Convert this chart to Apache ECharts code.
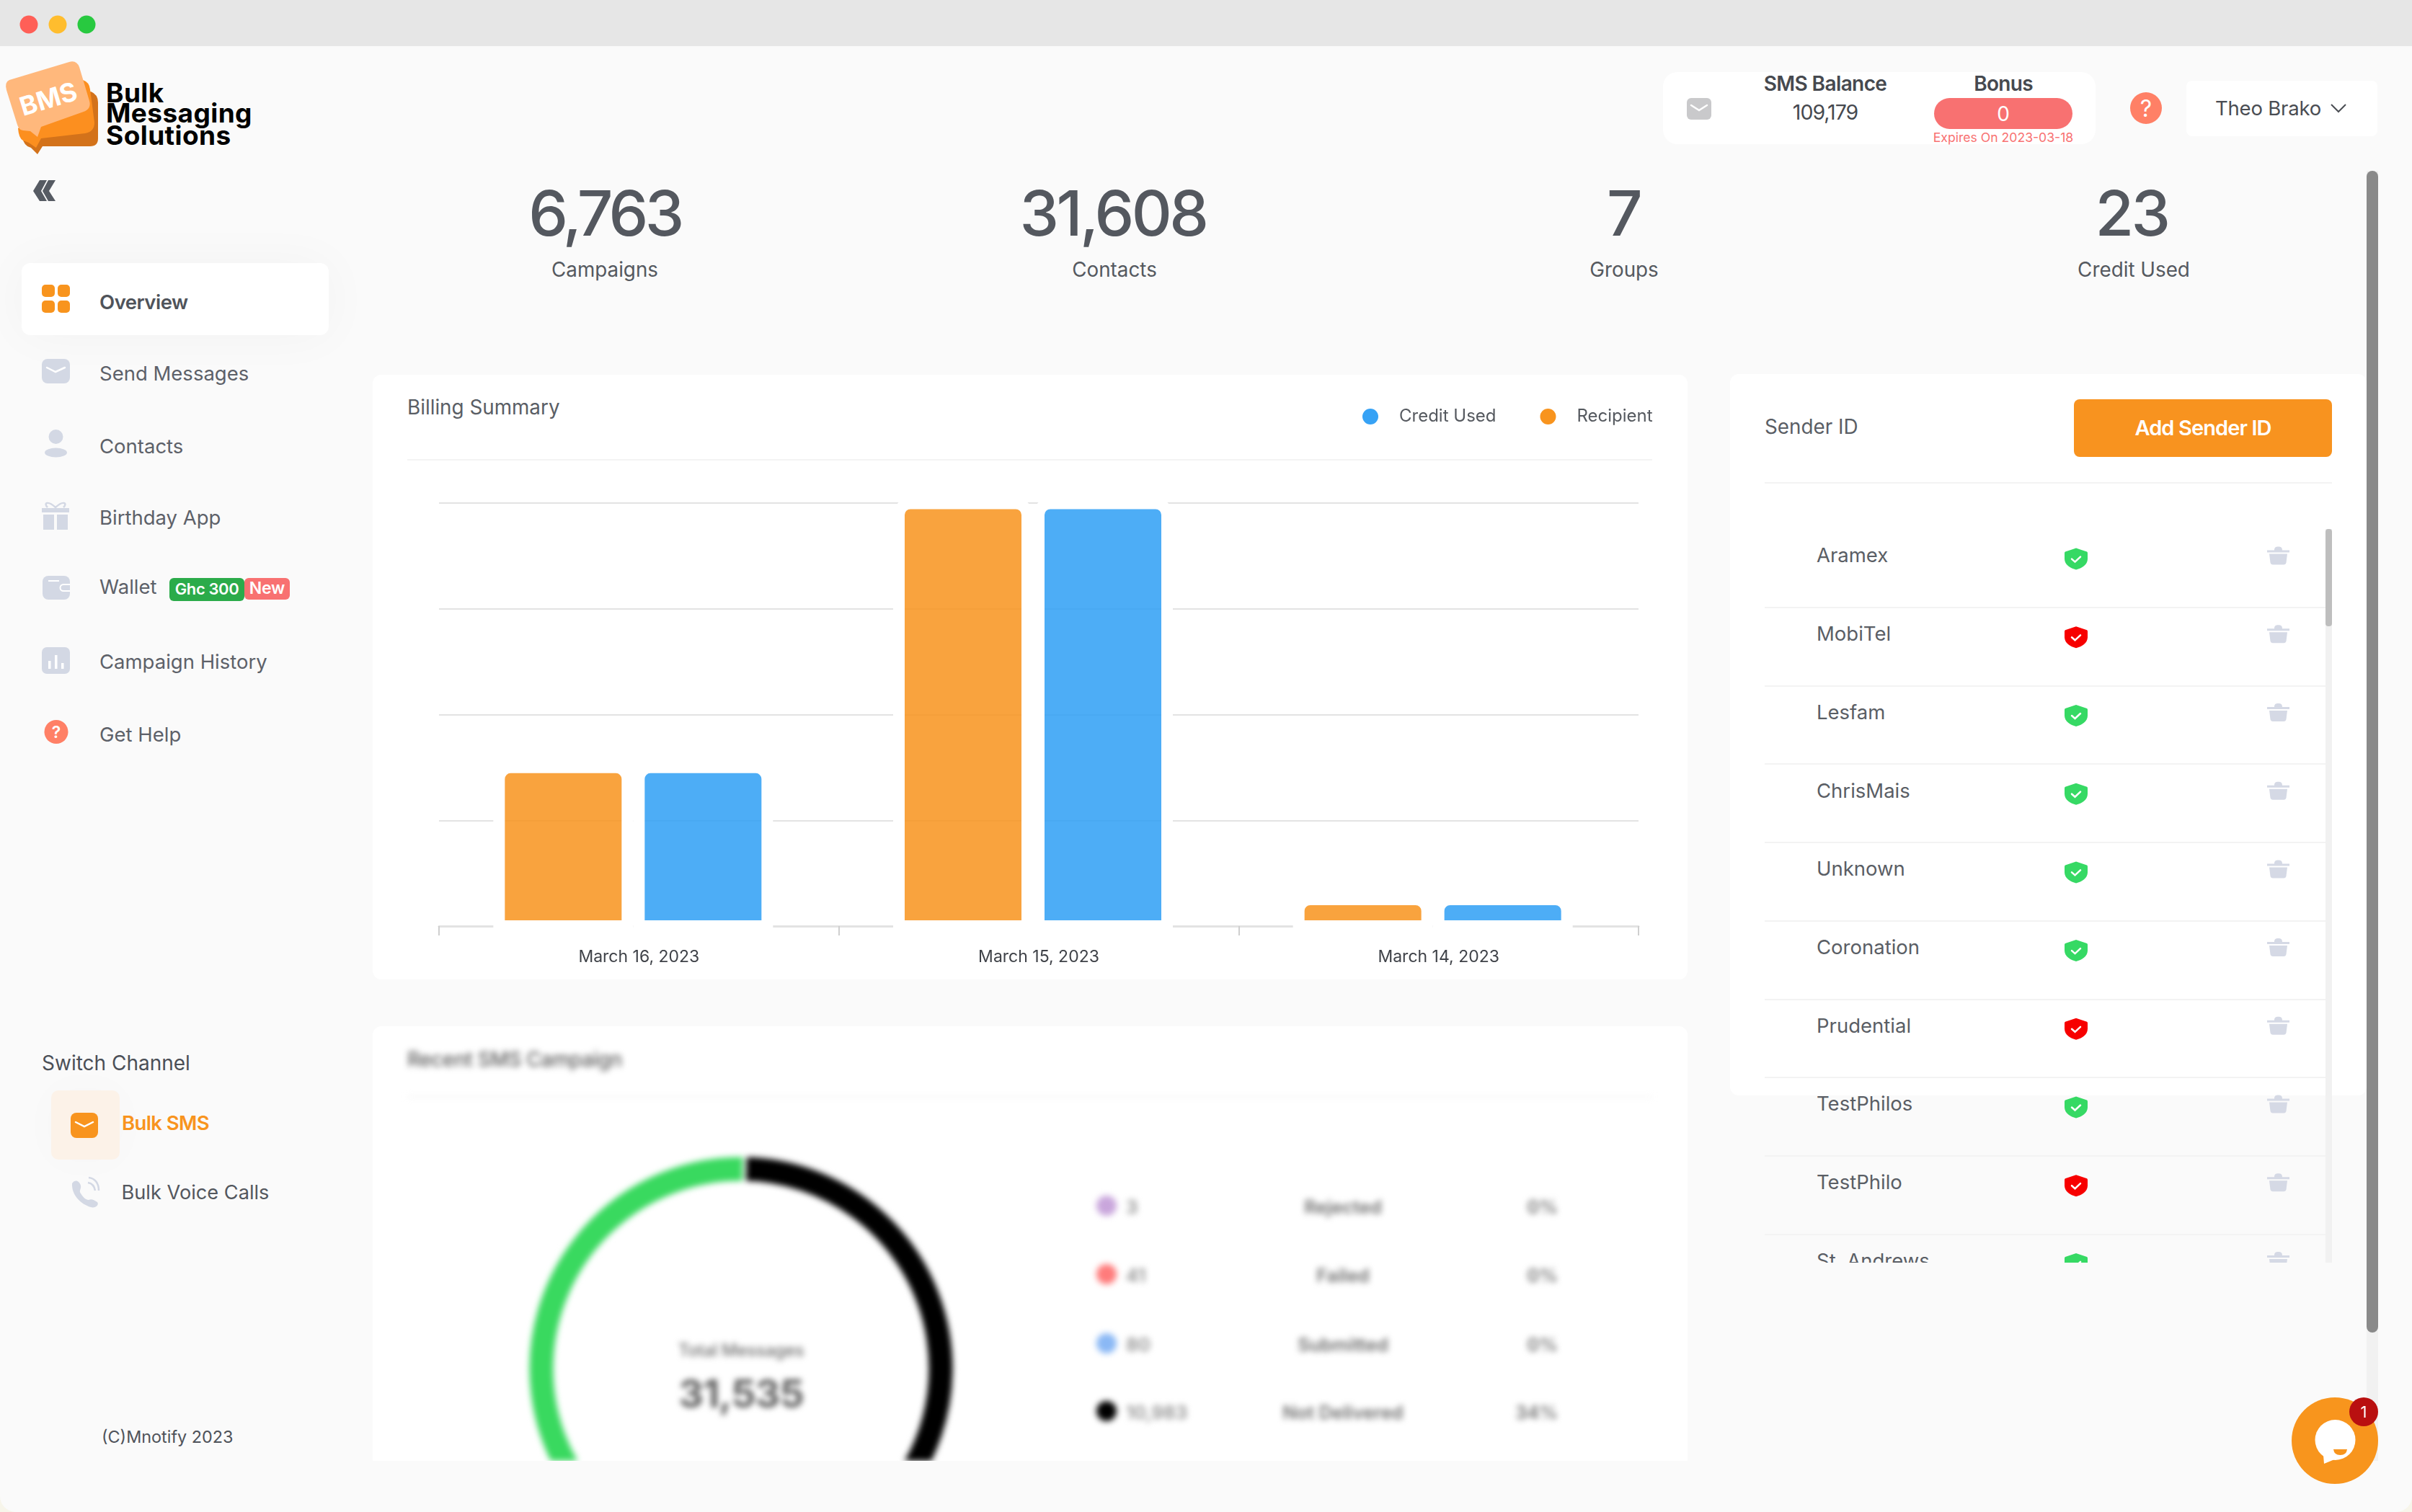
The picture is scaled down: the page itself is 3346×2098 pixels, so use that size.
<!DOCTYPE html>
<html><head><meta charset="utf-8"><title>Bulk Messaging Solutions</title>
<script src="https://cdn.jsdelivr.net/npm/echarts@6/dist/echarts.min.js"></script>
<style>
html,body{margin:0;padding:0;width:3346px;height:2098px;overflow:hidden;background:#f7f5ea}
#win{position:absolute;left:0;top:0;width:3346px;height:2098px;background:#fafafa;border-radius:0 0 22px 22px;overflow:hidden;font-family:Inter,sans-serif}
.a{position:absolute}.t{position:absolute;white-space:nowrap;line-height:1}
svg{position:absolute;left:0;top:0;overflow:visible}
</style></head><body><div id="win"></div>
<script>
const chartDates=['March 16, 2023','March 15, 2023','March 14, 2023'];
const recipientValues=[6,16,1];
const creditUsedValues=[6,16,1];
const legendNames=['Credit Used','Recipient'];
const yMax=16,yStep=4;
const statValues=['6,763','31,608','7','23'];
const statLabels=['Campaigns','Contacts','Groups','Credit Used'];
const navLabels=['Overview','Send Messages','Contacts','Birthday App','Wallet','Campaign History','Get Help'];
const senderNames=['Aramex','MobiTel','Lesfam','ChrisMais','Unknown','Coronation','Prudential','TestPhilos','TestPhilo','St. Andrews'];
const senderVerified=[1,0,1,1,1,1,0,1,0,1];
const campaignNames=['Not Delivered','Submitted','Failed','Rejected','Delivered'];
const campaignValues=[10983,80,41,3,20428];
const campaignColors=['#000000','#8ab8f5','#ff7b7b','#c9a6dc','#39d95f'];
const campaignRows=[['3','Rejected','0%','#c9a6dc'],['41','Failed','0%','#ff7b7b'],['80','Submitted','0%','#8ab8f5'],['10,983','Not Delivered','34%','#000']];

const win=document.getElementById('win');
function box(x,y,w,h,css,parent){const d=document.createElement('div');d.className='a';d.style.cssText=`left:${x}px;top:${y}px;width:${w}px;height:${h}px;${css||''}`;(parent||win).appendChild(d);return d}
function txt(s,x,y,size,color,o,parent){o=o||{};const d=document.createElement('div');d.className='t';d.textContent=s;
 const tx=o.a==='c'?'-50%':o.a==='r'?'-100%':'0';
 d.style.cssText=`left:${x}px;top:${y}px;font-size:${size}px;color:${color};font-weight:${o.w||400};letter-spacing:${o.ls||0}px;transform:translate(${tx},-50%);font-family:${o.f||'Inter,sans-serif'};`;
 (parent||win).appendChild(d);return d}
function svg(inner,parent){const n=document.createElement('div');n.innerHTML=`<svg xmlns="http://www.w3.org/2000/svg" width="3346" height="2098">${inner}</svg>`;const e=n.firstChild;(parent||win).appendChild(e);return e}

/* window chrome */
box(0,0,3346,64,'background:#e6e6e6');
svg(`<circle cx="40" cy="34" r="12.5" fill="#ff5f57"/><circle cx="80" cy="34" r="12.5" fill="#ffbd2e"/><circle cx="120" cy="34" r="12.5" fill="#28c940"/>`);

/* logo */
svg(`<path d="M126 127 Q136 131 136 142 V192 Q136 203 125 203 L59 203 L52 214 L43 205 Q33 203 31 190 Z" fill="#d3721a"/>
<path d="M115 111 Q124 114 125 124 L131 170 Q131 183 118 185 L57 192 L50 205 L40 198 L32 195 Q26 192 25 178 Z" fill="#fc8f1f"/>
<path d="M13 111 L96 86 Q106 83 110 93 L124 140 Q127 151 116 155 L57 176 L52 190 L42 182 L32 181 Q26 180 24 173 L9 125 Q6 114 13 111Z" fill="#ffb87c"/>`);
const bms=txt('BMS',67,137,36,'#fff',{a:'c',w:700});bms.style.transform='translate(-50%,-50%) rotate(-17deg)';
['Bulk','Messaging','Solutions'].forEach((s,i)=>txt(s,147,[128,156,187][i],37,'#000',{w:700,ls:0.4}));
svg(`<path d="M55 250 L46 265 L55 279 H65 L57 265 L65 250Z M67 250 L59 265 L67 279 H77 L68 265 L77 250Z" fill="#565b63"/>`);

/* sidebar */
box(30,365,426,100,'background:#fff;border-radius:12px;box-shadow:0 0 70px rgba(0,0,0,.035)');
const navY=[420,519,620,719,815,919,1020];
navLabels.forEach((s,i)=>txt(s,138,navY[i],27.5,i===0?'#4f535a':'#5d6169',{w:i===0?600:400,ls:i===0?-0.5:0}));
const G='#d3d8e4';
svg(`<g fill="#f8941e"><rect x="58" y="395" width="18" height="17" rx="5"/><rect x="80" y="395" width="17" height="17" rx="5"/><rect x="58" y="417" width="18" height="17" rx="5"/><rect x="80" y="417" width="17" height="17" rx="5"/></g>
<rect x="58" y="498" width="39" height="34" rx="8" fill="${G}"/><path d="M65 510 L77 516 L90 510" fill="none" stroke="#fff" stroke-width="2.5" stroke-linecap="round"/>
<ellipse cx="77.500" cy="606" rx="10" ry="10" fill="${G}"/><ellipse cx="77.500" cy="628" rx="15.500" ry="6.500" fill="${G}"/>
<path d="M58 705H96V711H58Z M60 714H75V735H60Z M79 714H94V735H79Z" fill="${G}"/><path d="M77 704C66 694 60 698 66 704M77 704C88 694 94 698 88 704" fill="none" stroke="${G}" stroke-width="2.500"/>
<rect x="59" y="799" width="38" height="33" rx="8" fill="${G}"/><path d="M67 806H82" stroke="#fff" stroke-width="2"/><path d="M97 811H88a4.500 4.500 0 0 0 0 9H97" fill="none" stroke="#fff" stroke-width="2"/>
<rect x="58" y="898" width="39" height="37" rx="7" fill="${G}"/><rect x="67" y="917" width="3.500" height="11" fill="#fff"/><rect x="76" y="909" width="3.500" height="19" fill="#fff"/><rect x="85" y="920" width="3.500" height="8" fill="#fff"/>
<circle cx="78" cy="1015.500" r="16.500" fill="#ff8066"/>`);
txt('?',78,1016,23,'#fff',{a:'c',w:600});
box(235,802,104,32,'background:#2bab4a;border-radius:6px');txt('Ghc 300',287,817,22,'#fff',{a:'c',w:600,ls:-0.4});
box(339,802,63,30,'background:#f87171;border-radius:6px');txt('New',370.500,816,23,'#fff',{a:'c',w:600,ls:-0.2});

txt('Switch Channel',58,1475,28,'#4b4f57');
box(71,1513,95,96,'background:#fcf2e8;border-radius:10px;box-shadow:0 0 60px rgba(0,0,0,.02)');
svg(`<rect x="98" y="1544" width="38" height="35" rx="8" fill="#f8941e"/><path d="M105 1557 L117 1563 L129 1557" fill="none" stroke="#fff" stroke-width="2.500" stroke-linecap="round"/>
<path d="M100 1642C104 1636 110 1638 112 1645C113 1650 109 1652 112 1656C115 1661 119 1665 123 1665C127 1663 130 1665 135 1668C138 1672 132 1677 126 1675C112 1671 99 1658 100 1642Z" fill="${G}"/><path d="M122 1641C128 1642 131 1646 132 1652M123 1634C132 1635 137 1642 137 1652" fill="none" stroke="${G}" stroke-width="2.500"/>`);
txt('Bulk SMS',169,1559,27.5,'#f8941e',{w:600,ls:-0.6});
txt('Bulk Voice Calls',168.5,1655,27.2,'#53575e');
txt('(C)Mnotify 2023',141,1994,23.4,'#4f535a');

/* top-right header */
box(2307,100,600,100,'background:#fff;border-radius:20px');
svg(`<rect x="2340" y="136" width="34" height="30" rx="6" fill="#c9c9cb"/><path d="M2346 146 L2357 153 L2368 146" fill="none" stroke="#fff" stroke-width="2.500" stroke-linecap="round"/>`);
txt('SMS Balance',2532,116,28,'#46494f',{a:'c',w:600,ls:-0.6});
txt('109,179',2532,156,28.500,'#46494f',{a:'c',ls:-1});
txt('Bonus',2779,116,28,'#46494f',{a:'c',w:600,ls:-0.7});
box(2683,136,192,43,'background:#f87171;border-radius:22px');txt('0',2779,158,28,'#fff',{a:'c'});
txt('Expires On 2023-03-18',2779,191,17.600,'#f87171',{a:'c'});
svg(`<circle cx="2977" cy="150" r="22" fill="#ff8066"/>`);txt('?',2977,151,32,'#fff',{a:'c'});
box(3033,112,265,77,'background:#fff;border-radius:8px');
txt('Theo Brako',3073,151,27.5,'#4a4d53',{ls:-0.2});
svg(`<path d="M3234 145 L3244 155 L3254 145" fill="none" stroke="#4a4d53" stroke-width="2"/>`);

/* stats */
const statX=[839,1544,2252,2957];
statValues.forEach((s,i)=>txt(s,statX[i],295,87,'#54585f',{a:'c',w:500,ls:i===0?-4.6:-3.6}));
const labelX=[839,1546,2253,2960];
statLabels.forEach((s,i)=>txt(s,labelX[i],374.5,27.8,'#55595f',{a:'c'}));

/* scrollbar */
box(3283,237,16,1790,'background:#f1f1f1');box(3283,237,16,1612,'background:#8a8a8a;border-radius:8px');

/* billing card */
box(517,520,1824,839,'background:#fff;border-radius:12px');
txt('Billing Summary',565,566,27.8,'#5a5e65');
box(565,637,1727,2,'background:#f4f4f4');

/* recent campaign card (blurred region) */
const rec=box(517,1424,1824,603,'background:#fff;border-radius:12px 12px 0 0;overflow:hidden');
const blur=box(0,0,1824,603,'filter:blur(4px)',rec);
txt('Recent SMS Campaign',48,47,27.8,'#5c5c5c',{w:500,ls:-0.3},blur);
box(48,97,1727,2,'background:#f1f1f1',blur);
const pieDiv=box(0,0,1824,603,'',blur);
txt('Total Messages',511,450,24,'#707070',{a:'c',w:500,ls:-0.4},blur);
txt('31,535',511,510,54,'#5f5f5f',{a:'c',w:700,ls:-1},blur);
const rowY=[249,344,440,534];
campaignRows.forEach((r,i)=>{
 box(1004,rowY[i]-14,28,28,`background:${r[3]};border-radius:50%`,blur);
 txt(r[0],1045,rowY[i]+2,26,'#8f8f8f',{w:600},blur);
 txt(r[1],1346,rowY[i]+2,25.5,'#6f6f6f',{a:'c',w:600},blur);
 txt(r[2],1644,rowY[i]+2,25.5,'#6f6f6f',{a:'r',w:600},blur);
});

/* sender card */
box(2400,519,883,1001,'background:#fff;border-radius:12px');
txt('Sender ID',2448,592.5,27.8,'#5a5e65');
box(2877,554,358,80,'background:#f8931f;border-radius:8px');txt('Add Sender ID',3056,593,29,'#fff',{a:'c',w:600,ls:-0.9});
box(2448,669,787,2,'background:#f3f3f3');
box(3226,734,9,1018,'background:#f1f1f1');box(3226,734,9,135,'background:#bebebe;border-radius:4px');
const list=box(2448,690,778,1062,'overflow:hidden');
senderNames.forEach((s,i)=>{
 const y=80.6+108.7*i;
 txt(s,72,y+0.8,27.5,'#5a5e65',{},list);
 const c=senderVerified[i]?'#36d964':'#f70000';
 svg(`<g transform="translate(416,${y-10})"><path d="M16 0 L31 5 Q32 5.500 32 7 V15 C32 23 24 28 16 30 C8 28 0 23 0 15 V7 Q0 5.500 1 5Z" fill="${c}"/><path d="M10 15 L14.500 19 L22 12" fill="none" stroke="#fff" stroke-width="2.500" stroke-linecap="round"/></g>
 <g transform="translate(697,${y-12})" fill="#d5d9e5"><path d="M0 5H31V8H0Z M10 5C10 1 12 0 15.500 0C19 0 21 1 21 5Z"/><path d="M3 10H28L26.500 22Q26 25 23 25H8Q5 25 4.500 22Z"/></g>`,list);
 if(i<9) box(0,Math.round(152+108.7*i),778,2,'background:#f3f3f3',list);
});

/* chat widget */
svg(`<circle cx="3239" cy="1999" r="60" fill="#f8951d"/><circle cx="3239.500" cy="1998" r="28" fill="#fff"/><path d="M3223 2019 L3224 2031 L3241 2024Z" fill="#fff"/>
<path d="M3237 2011 H3256 Q3255 2019 3246.500 2019 Q3238 2019 3237 2011Z" fill="#f8951d"/><circle cx="3279" cy="1959" r="20" fill="#b91010"/>`);
txt('1',3279,1959,22,'#fff',{a:'c'});

/* bar chart */
const chartDiv=box(0,0,3346,2098,'pointer-events:none');
const chart=echarts.init(chartDiv,null,{renderer:'canvas'});
const ORANGE='#f8941e',BLUE='#36a2f5',FILL_O='rgba(248,148,30,.86)',FILL_B='rgba(46,159,245,.85)';
function barSeries(name,data,fill){return {name,type:'bar',xAxisIndex:1,yAxisIndex:1,data,barWidth:194,barGap:0,z:5,silent:true,
 itemStyle:{color:fill,borderColor:'#fff',borderWidth:16,borderRadius:[16,16,0,0]}}}
chart.setOption({animation:false,backgroundColor:'transparent',textStyle:{fontFamily:'Inter'},
 legend:{left:1890,top:566,icon:'circle',itemWidth:22,itemHeight:22,itemGap:61,padding:0,selectedMode:false,
  textStyle:{fontFamily:'Inter',fontSize:24,color:'#55595f',padding:[2,0,0,24]},
  data:[{name:legendNames[0],itemStyle:{color:BLUE,borderWidth:0}},{name:legendNames[1],itemStyle:{color:ORANGE,borderWidth:0}}]},
 grid:[{left:609,top:698,width:1664,height:587},{left:601,top:690.500,width:1664,height:602.600}],
 xAxis:[{type:'category',gridIndex:0,data:chartDates,axisLine:{lineStyle:{color:'#e3e3e3',width:3}},axisTick:{show:true,length:13,alignWithLabel:false,lineStyle:{color:'#cfcfcf',width:2}},
   axisLabel:{fontFamily:'Inter',fontSize:23,color:'#3f4248',margin:32}},
  {type:'category',gridIndex:1,data:chartDates,show:false}],
 yAxis:[{type:'value',gridIndex:0,min:0,max:yMax,interval:yStep,axisLabel:{show:false},axisTick:{show:false},axisLine:{show:false},splitLine:{lineStyle:{color:'#e3e3e3',width:2}}},
  {type:'value',gridIndex:1,min:-0.45,max:yMax,startValue:-0.45,show:false,splitLine:{show:false}}],
 series:[barSeries(legendNames[1],recipientValues,FILL_O),barSeries(legendNames[0],creditUsedValues,FILL_B)]
});

/* campaign ring */
const pie=echarts.init(pieDiv,null,{renderer:'canvas'});
pie.setOption({animation:false,series:[{type:'pie',silent:true,left:0,top:0,width:1824,height:603,center:[511,475],radius:[258,296],startAngle:89,clockwise:true,label:{show:false},labelLine:{show:false},
 itemStyle:{borderColor:'#fff',borderWidth:5},
 data:campaignNames.map((n,i)=>({name:n,value:campaignValues[i],itemStyle:{color:campaignColors[i]}}))}]});
</script></body></html>
